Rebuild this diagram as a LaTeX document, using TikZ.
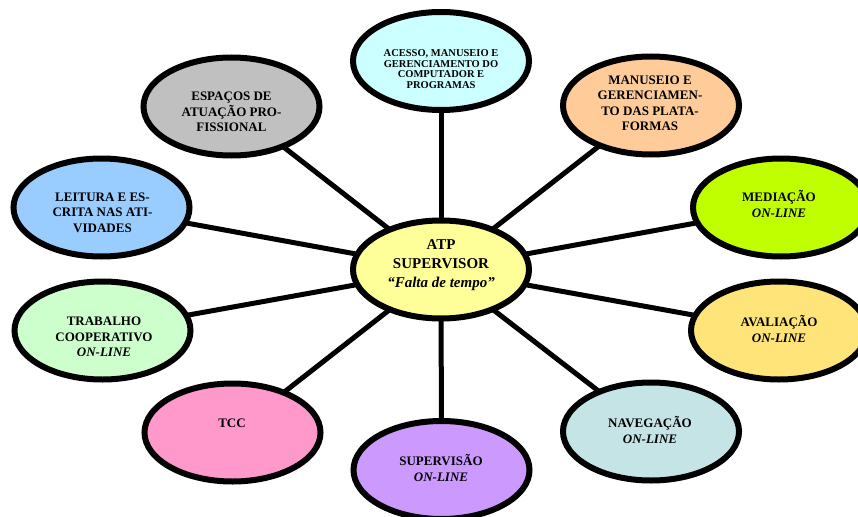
\documentclass[tikz,border=0pt]{standalone}
\usepackage{fontspec}
\setmainfont{Liberation Serif}
\usetikzlibrary{shapes.geometric,backgrounds}
\definecolor{cATP}{HTML}{FFFF99}
\definecolor{cAcesso}{HTML}{CCFFFF}
\definecolor{cManuseio}{HTML}{FFCC99}
\definecolor{cMediacao}{HTML}{BFFF00}
\definecolor{cAvaliacao}{HTML}{FFE47A}
\definecolor{cNavegacao}{HTML}{C4E4E6}
\definecolor{cSupervisao}{HTML}{CC99FF}
\definecolor{cTCC}{HTML}{FF99CC}
\definecolor{cTrabalho}{HTML}{CCFFCC}
\definecolor{cLeitura}{HTML}{99CCFF}
\definecolor{cEspacos}{HTML}{C0C0C0}
\begin{document}
\begin{tikzpicture}[x=1pt,y=-1pt,
  bubble/.style={ellipse,draw=black,line width=6pt,minimum width=176pt,minimum height=98pt,inner sep=0pt},
  txt/.style={align=center,inner sep=0pt,text=black,font=\fontsize{13}{15.5}\selectfont\bfseries},
  smalltxt/.style={txt,font=\fontsize{10.5}{10.7}\selectfont\bfseries},
  bigtxt/.style={txt,font=\fontsize{15}{19}\selectfont\bfseries},
  link/.style={line width=5pt,draw=black}]
\useasboundingbox (0,0) rectangle (858,516);
% bubbles
\node[bubble,fill=cATP] (atp) at (441,269.5) {};
\node[bubble,fill=cAcesso] (acesso) at (441,61) {};
\node[bubble,fill=cManuseio] (manuseio) at (651,105.5) {};
\node[bubble,fill=cMediacao] (mediacao) at (781,207.5) {};
\node[bubble,fill=cAvaliacao] (avaliacao) at (779,330.5) {};
\node[bubble,fill=cNavegacao] (navegacao) at (651,431.5) {};
\node[bubble,fill=cSupervisao] (supervisao) at (441.5,470) {};
\node[bubble,fill=cTCC] (tcc) at (232.5,432.5) {};
\node[bubble,fill=cTrabalho] (trabalho) at (102.5,330.5) {};
\node[bubble,fill=cLeitura] (leitura) at (101.5,207.5) {};
\node[bubble,fill=cEspacos] (espacos) at (231.5,106.5) {};
% texts
\node[bigtxt] (atp-t) at (441,265) {ATP\\SUPERVISOR\\\textit{“Falta de tempo”}};
\node[smalltxt] (acesso-t) at (441,69) {ACESSO, MANUSEIO E\\GERENCIAMENTO DO\\COMPUTADOR E\\PROGRAMAS};
\node[txt] (manuseio-t) at (650,103.5) {MANUSEIO E\\GERENCIAMEN-\\TO DAS PLATA-\\FORMAS};
\node[txt] (mediacao-t) at (779,204) {MEDIAÇÃO\\\textit{ON-LINE}};
\node[txt] (avaliacao-t) at (779,329) {AVALIAÇÃO\\\textit{ON-LINE}};
\node[txt] (navegacao-t) at (650,430) {NAVEGAÇÃO\\\textit{ON-LINE}};
\node[txt] (supervisao-t) at (441,468) {SUPERVISÃO\\\textit{ON-LINE}};
\node[txt] (tcc-t) at (232,423) {TCC};
\node[txt] (trabalho-t) at (104,337) {TRABALHO\\COOPERATIVO\\\textit{ON-LINE}};
\node[txt] (leitura-t) at (102.5,212.5) {LEITURA E ES-\\CRITA NAS ATI-\\VIDADES};
\node[txt] (espacos-t) at (231.5,112) {ESPAÇOS DE\\ATUAÇÃO PRO-\\FISSIONAL};
% connectors
\begin{pgfonlayer}{background}
\fill[white] (0,0) rectangle (858,516);
\foreach \n in {acesso,manuseio,mediacao,avaliacao,navegacao,supervisao,tcc,trabalho,leitura,espacos}
  \draw[link] (atp.center) -- (\n.center);
\end{pgfonlayer}
\end{tikzpicture}
\end{document}
